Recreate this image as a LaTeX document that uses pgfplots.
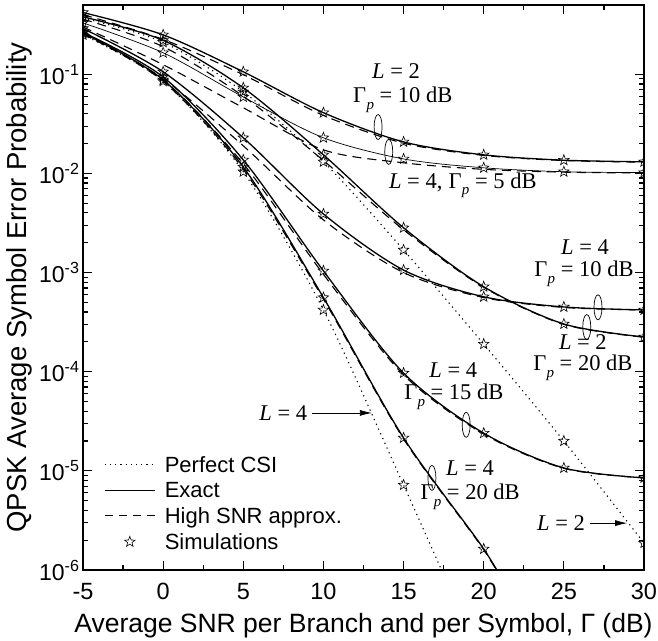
\documentclass[border=0pt]{standalone}
\usepackage{pgfplots}
\pgfplotsset{compat=1.18}
\usepackage{fontspec}
\setmainfont{Liberation Sans}
\newfontfamily\tnr{Liberation Serif}
\usetikzlibrary{arrows.meta}

\pgfdeclareplotmark{ostar}{%
  \pgfpathmoveto{\pgfpointpolar{90}{\pgfplotmarksize}}%
  \pgfpathlineto{\pgfpointpolar{126}{0.42\pgfplotmarksize}}%
  \pgfpathlineto{\pgfpointpolar{162}{\pgfplotmarksize}}%
  \pgfpathlineto{\pgfpointpolar{198}{0.42\pgfplotmarksize}}%
  \pgfpathlineto{\pgfpointpolar{234}{\pgfplotmarksize}}%
  \pgfpathlineto{\pgfpointpolar{270}{0.42\pgfplotmarksize}}%
  \pgfpathlineto{\pgfpointpolar{306}{\pgfplotmarksize}}%
  \pgfpathlineto{\pgfpointpolar{342}{0.42\pgfplotmarksize}}%
  \pgfpathlineto{\pgfpointpolar{18}{\pgfplotmarksize}}%
  \pgfpathlineto{\pgfpointpolar{54}{0.42\pgfplotmarksize}}%
  \pgfpathclose
  \pgfusepathqstroke
}

\newcommand{\LL}[1]{{\tnr\textit{L}~=~#1}}
\newcommand{\GP}[1]{{\tnr Γ\kern0.3pt\raisebox{-0.65ex}{\fontsize{15}{15}\selectfont\textit{p}}~=~#1~dB}}
\newcommand{\af}{\fontsize{22.5}{22.5}\selectfont}

\pgfplotsset{
  exact/.style={smooth, black, line width=1.3pt, mark=none},
  thinexact/.style={smooth, black, line width=0.7pt, mark=none},
  approx/.style={smooth, black, line width=1.1pt, dash pattern=on 9pt off 6pt, mark=none},
  perfect/.style={smooth, black, line width=1.1pt, dash pattern=on 1.2pt off 4pt, mark=none},
  sims/.style={only marks, mark=ostar, mark size=5.5pt, mark options={line width=0.6pt, fill=none}},
}

\begin{document}
\begin{tikzpicture}
\path[use as bounding box] (-83pt,-70pt) rectangle (575pt,570pt);
\begin{axis}[
  width=561pt, height=565pt, scale only axis,
  xmin=-5, xmax=30, ymode=log, ymin=1e-6, ymax=0.5,
  xtick={-5,0,5,10,15,20,25,30}, xticklabels={-5,0,5,10,15,20,25,30},
  minor x tick num=1,
  ytick={1e-6,1e-5,1e-4,1e-3,1e-2,1e-1},
  yticklabels={10\textsuperscript{-6},10\textsuperscript{-5},10\textsuperscript{-4},10\textsuperscript{-3},10\textsuperscript{-2},10\textsuperscript{-1}},
  tick align=inside, major tick length=9pt, minor tick length=5pt,
  axis line style={line width=1.6pt},
  every tick/.style={black, line width=1.2pt},
  xticklabel style={font=\fontsize{23.5}{23.5}\selectfont, anchor=base, yshift=-29pt},
  yticklabel style={font=\fontsize{23}{23}\selectfont},
  xlabel={Average SNR per Branch and per Symbol, Γ (dB)},
  ylabel={QPSK Average Symbol Error Probability},
  xlabel style={font=\fontsize{26.5}{26.5}\selectfont, at={(axis description cs:0.5,0)}, anchor=base, yshift=-62pt},
  ylabel style={font=\fontsize{27.5}{27.5}\selectfont},
  clip marker paths=true,
  legend cell align=left,
  legend style={at={(axis description cs:0.032,0.209)}, anchor=north west, draw=none, fill=none,
    font=\fontsize{22}{22}\selectfont, row sep=4.5pt},
  legend image code/.code={\draw[#1] (0pt,0pt) -- (50pt,0pt); \path[draw=none] (0pt,0pt) -- (58pt,0pt);},
]
% legend entries
\addlegendimage{black, line width=1.1pt, dash pattern=on 1.2pt off 4pt}
\addlegendentry{Perfect CSI}
\addlegendimage{black, line width=1.3pt}
\addlegendentry{Exact}
\addlegendimage{black, line width=1.1pt, dash pattern=on 8pt off 6pt}
\addlegendentry{High SNR approx.}
\addlegendimage{legend image code/.code={\draw[black, line width=0.6pt, mark=ostar, mark size=5.5pt] plot coordinates {(25pt,0pt)}; \path[draw=none] (0pt,0pt) -- (58pt,0pt);}}
\addlegendentry{Simulations}

% A: L=2, Gp=10 dB
\addplot[exact, forget plot] coordinates {(-5,0.42)(0,0.25)(5,0.106)(10,0.041)(15,0.0208)(20,0.0154)(25,0.0136)(30,0.0131)};
\addplot[approx, forget plot] coordinates {(-5,0.40)(0,0.225)(5,0.099)(10,0.0385)(15,0.0202)(20,0.0152)(25,0.0135)(30,0.0130)};
\addplot[sims, forget plot] coordinates {(-5,0.42)(0,0.25)(5,0.106)(10,0.041)(15,0.0208)(20,0.0154)(25,0.0136)(30,0.0131)};
% B: L=4, Gp=5 dB
\addplot[thinexact, forget plot] coordinates {(-5,0.33)(0,0.165)(5,0.059)(10,0.0229)(15,0.014)(20,0.0114)(25,0.0104)(30,0.0102)};
\addplot[approx, forget plot] coordinates {(-5,0.30)(0,0.125)(5,0.046)(10,0.0173)(15,0.0128)(20,0.0110)(25,0.0103)(30,0.0101)};
\addplot[sims, forget plot] coordinates {(-5,0.33)(0,0.165)(5,0.059)(10,0.0229)(15,0.014)(20,0.0114)(25,0.0104)(30,0.0102)};
% C: L=2, Gp=20 dB
\addplot[exact, forget plot] coordinates {(-5,0.38)(0,0.22)(5,0.073)(10,0.0154)(15,0.00283)(20,7.2e-4)(25,3.03e-4)(30,2.24e-4)};
\addplot[approx, forget plot] coordinates {(-5,0.36)(0,0.19)(5,0.060)(10,0.0135)(15,0.0027)(20,7.1e-4)(25,3.0e-4)(30,2.23e-4)};
\addplot[sims, forget plot] coordinates {(-5,0.38)(0,0.22)(5,0.073)(10,0.0154)(15,0.00283)(20,7.2e-4)(25,3.03e-4)(30,2.24e-4)};
% D: perfect CSI, L=2
\addplot[perfect, forget plot] coordinates {(-5,0.37)(0,0.21)(5,0.0666)(10,0.0131)(15,1.69e-3)(20,1.9e-4)(25,2.0e-5)(30,1.87e-6)};
\addplot[sims, forget plot] coordinates {(-5,0.37)(0,0.21)(5,0.0666)(10,0.0131)(15,1.69e-3)(20,1.9e-4)(25,2.0e-5)(30,1.87e-6)};
% E: L=4, Gp=10 dB
\addplot[exact, forget plot] coordinates {(-5,0.29)(0,0.106)(5,0.0229)(10,0.0039)(15,1.06e-3)(20,5.7e-4)(25,4.5e-4)(30,4.2e-4)};
\addplot[approx, forget plot] coordinates {(-5,0.27)(0,0.09)(5,0.019)(10,0.0034)(15,1.0e-3)(20,5.6e-4)(25,4.45e-4)(30,4.2e-4)};
\addplot[sims, forget plot] coordinates {(-5,0.29)(0,0.106)(5,0.0229)(10,0.0039)(15,1.06e-3)(20,5.7e-4)(25,4.5e-4)(30,4.2e-4)};
% F: L=4, Gp=15 dB
\addplot[exact, forget plot] coordinates {(-5,0.265)(0,0.094)(5,0.0137)(10,1.04e-3)(15,9.7e-5)(20,2.4e-5)(25,1.07e-5)(30,8.5e-6)};
\addplot[approx, forget plot] coordinates {(-5,0.255)(0,0.088)(5,0.0125)(10,9.6e-4)(15,9.3e-5)(20,2.35e-5)(25,1.06e-5)(30,8.5e-6)};
\addplot[sims, forget plot] coordinates {(-5,0.265)(0,0.094)(5,0.0137)(10,1.04e-3)(15,9.7e-5)(20,2.4e-5)(25,1.07e-5)(30,8.5e-6)};
% G: L=4, Gp=20 dB
\addplot[exact, forget plot] coordinates {(-5,0.26)(0,0.088)(5,0.0116)(10,5.6e-4)(15,2.15e-5)(20,1.63e-6)(22,4.5e-7)};
\addplot[approx, forget plot] coordinates {(-5,0.255)(0,0.085)(5,0.0110)(10,5.4e-4)(15,2.1e-5)(20,1.6e-6)(22,4.4e-7)};
\addplot[sims, forget plot] coordinates {(-5,0.26)(0,0.088)(5,0.0116)(10,5.6e-4)(15,2.15e-5)(20,1.63e-6)};
% H: perfect CSI, L=4
\addplot[perfect, forget plot] coordinates {(-5,0.25)(0,0.085)(5,0.0104)(10,4.2e-4)(15,7.2e-6)(20,1.1e-7)};
\addplot[sims, forget plot] coordinates {(-5,0.25)(0,0.085)(5,0.0104)(10,4.2e-4)(15,7.2e-6)};

% annotations
\node[font=\af] at (axis description cs:0.558,0.883) {\LL{2}};
\node[font=\af] at (axis description cs:0.570,0.832) {\GP{10}};
\draw[line width=0.7pt] (axis description cs:0.526,0.784) ellipse (4pt and 12.5pt);
\draw[line width=0.7pt] (axis description cs:0.545,0.740) ellipse (4pt and 12.5pt);
\node[font=\af] at (axis description cs:0.677,0.681) {\LL{4}{\tnr,} \GP{5}};
\node[font=\af] at (axis description cs:0.895,0.572) {\LL{4}};
\node[font=\af] at (axis description cs:0.893,0.524) {\GP{10}};
\draw[line width=0.7pt] (axis description cs:0.918,0.465) ellipse (4pt and 12.5pt);
\draw[line width=0.7pt] (axis description cs:0.898,0.430) ellipse (4pt and 12.5pt);
\node[font=\af] at (axis description cs:0.891,0.404) {\LL{2}};
\node[font=\af] at (axis description cs:0.891,0.358) {\GP{20}};
\node[font=\af] at (axis description cs:0.660,0.354) {\LL{4}};
\node[font=\af] at (axis description cs:0.661,0.306) {\GP{15}};
\draw[line width=0.7pt] (axis description cs:0.683,0.257) ellipse (4pt and 12.5pt);
\node[font=\af] at (axis description cs:0.690,0.181) {\LL{4}};
\node[font=\af] at (axis description cs:0.690,0.129) {\GP{20}};
\draw[line width=0.7pt] (axis description cs:0.622,0.163) ellipse (4pt and 12.5pt);
\node[font=\af] at (axis description cs:0.357,0.278) {\LL{4}};
\draw[line width=0.7pt, -{Latex[length=12pt,width=6pt]}] (axis description cs:0.408,0.278) -- (axis description cs:0.515,0.278);
\node[font=\af] at (axis description cs:0.852,0.083) {\LL{2}};
\draw[line width=0.7pt, -{Latex[length=12pt,width=6pt]}] (axis description cs:0.904,0.083) -- (axis description cs:0.970,0.083);
\end{axis}
\end{tikzpicture}
\end{document}
